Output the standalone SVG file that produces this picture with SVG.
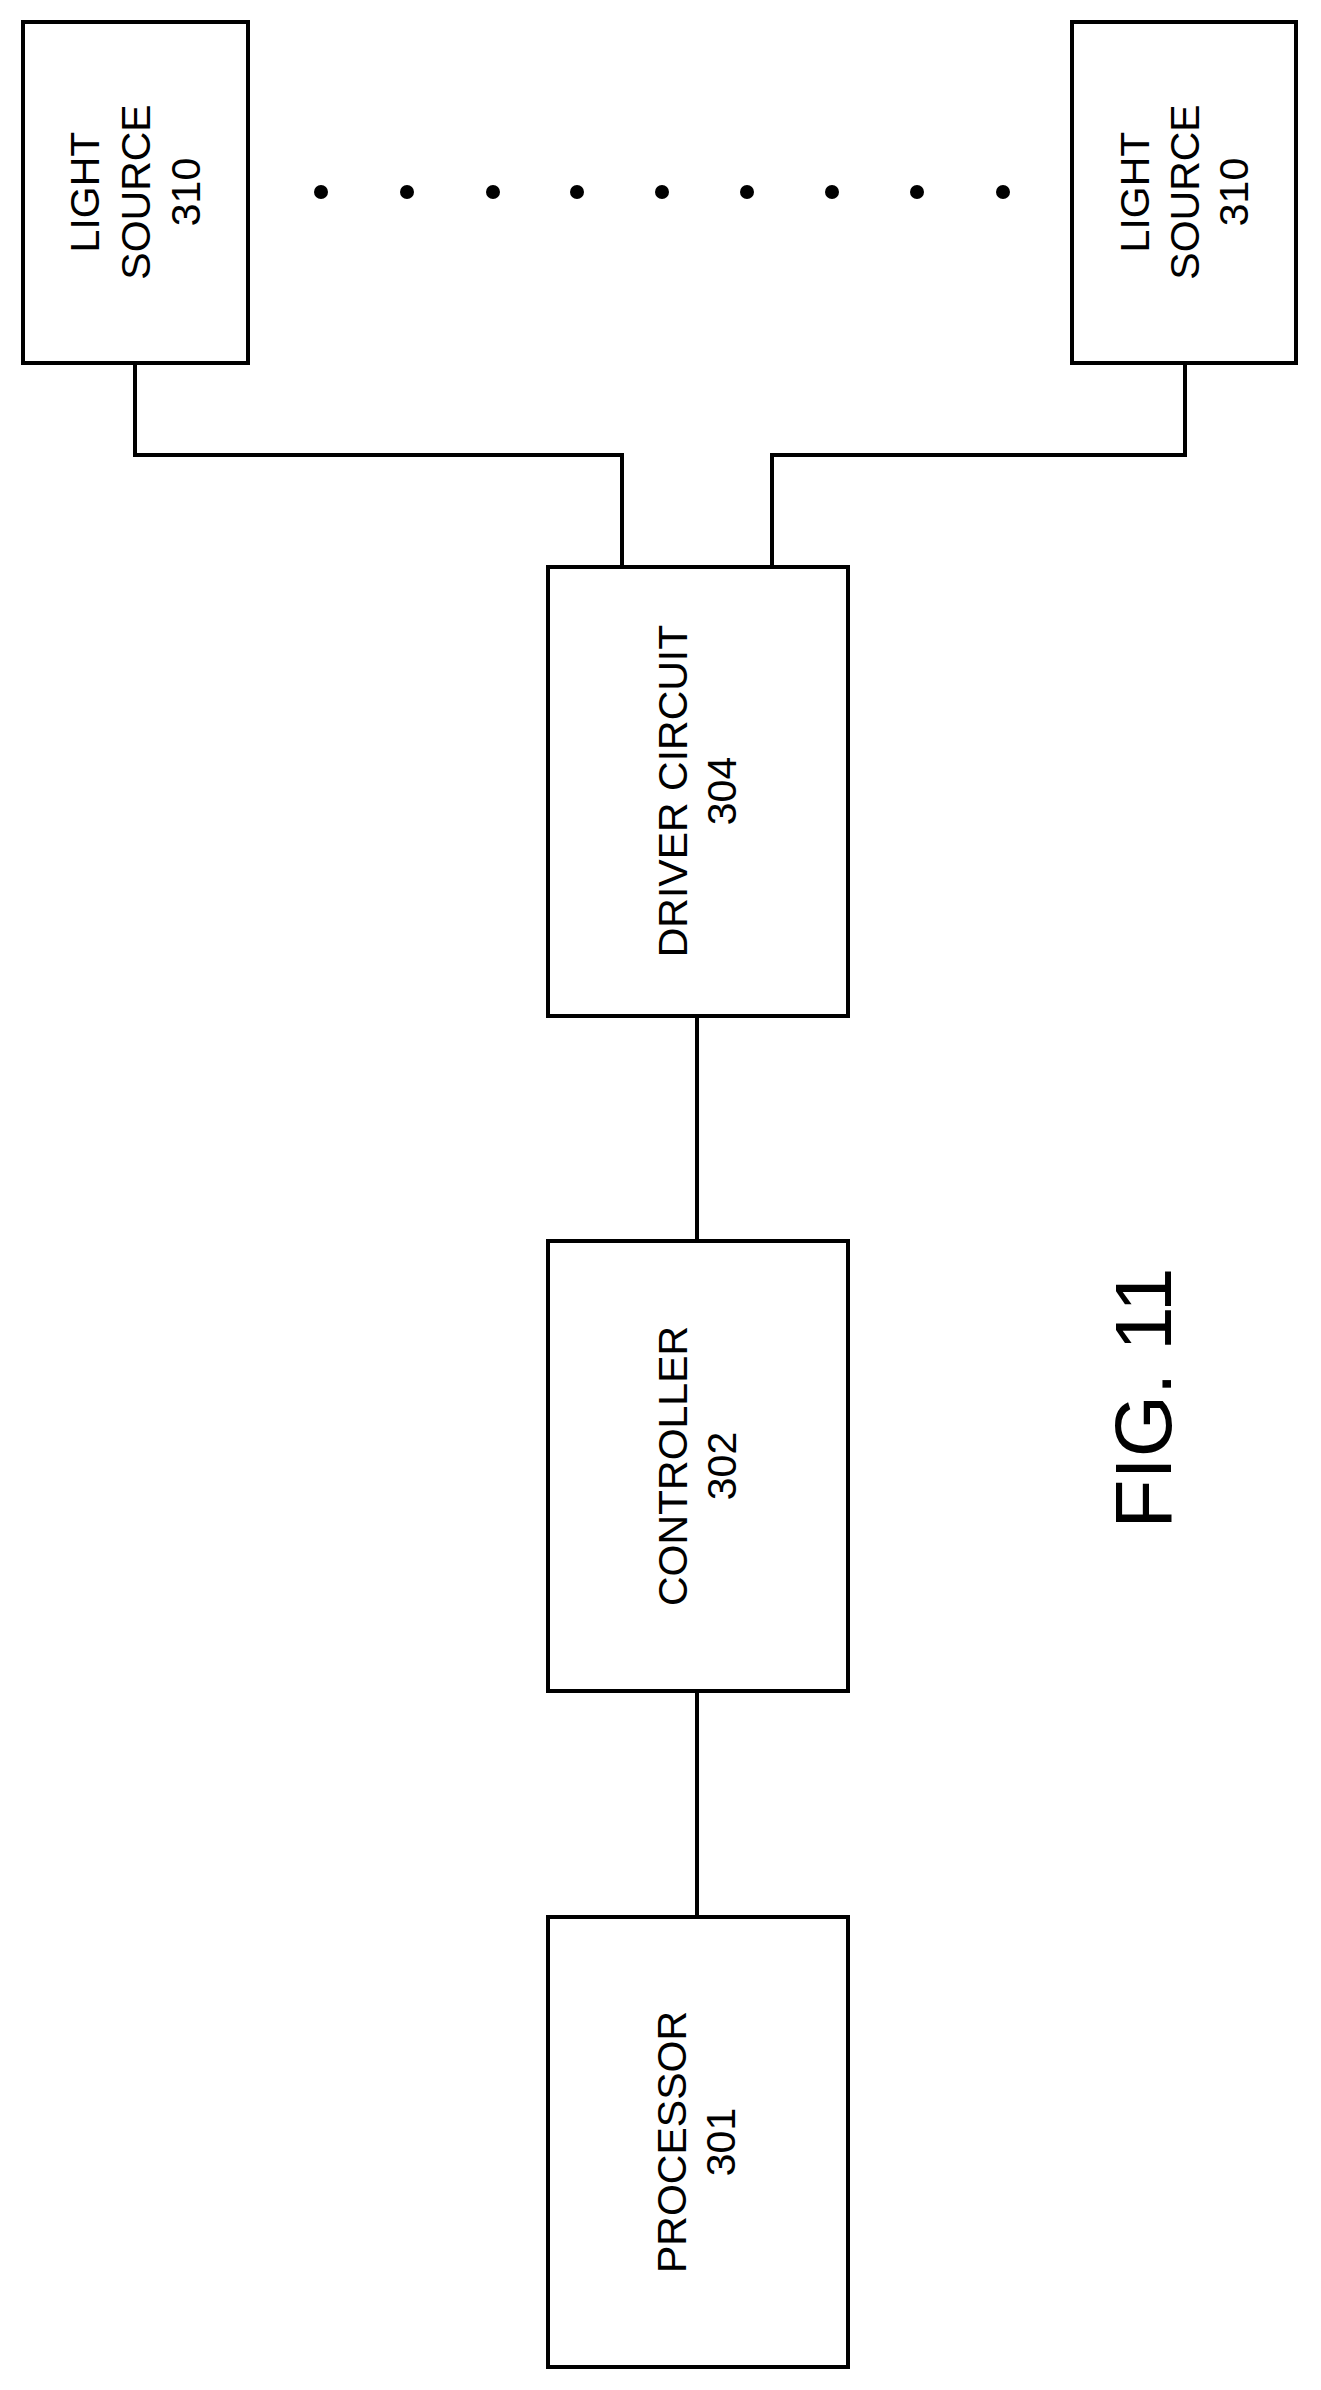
<svg xmlns="http://www.w3.org/2000/svg" width="1321" height="2390" viewBox="0 0 1321 2390">
<style>
.b{fill:#fff;stroke:#000;stroke-width:4}
.c{fill:none;stroke:#000;stroke-width:4}
text{font-family:"Liberation Sans",Arial,sans-serif;font-size:41px;fill:#000;text-anchor:middle}
</style>
<rect width="1321" height="2390" fill="#fff"/>
<g id="connectors">
<path class="c" d="M135 363V455H622V567"/>
<path class="c" d="M1185 363V455H772V567"/>
<path class="c" d="M697 1016V1241"/>
<path class="c" d="M697 1691V1917"/>
</g>
<g id="ls1"><rect class="b" x="23" y="22" width="225" height="341"/>
<text transform="translate(99 192) rotate(-90)">LIGHT</text>
<text transform="translate(150 192) rotate(-90)">SOURCE</text>
<text transform="translate(200 192) rotate(-90)">310</text></g>
<g id="ls2"><rect class="b" x="1072" y="22" width="224" height="341"/>
<text transform="translate(1149 192) rotate(-90)">LIGHT</text>
<text transform="translate(1199 192) rotate(-90)">SOURCE</text>
<text transform="translate(1248 192) rotate(-90)">310</text></g>
<g id="dots" fill="#000">
<circle cx="321" cy="192" r="7"/><circle cx="407" cy="192" r="7"/><circle cx="493" cy="192" r="7"/><circle cx="577" cy="192" r="7"/><circle cx="662" cy="192" r="7"/><circle cx="747" cy="192" r="7"/><circle cx="832" cy="192" r="7"/><circle cx="917" cy="192" r="7"/><circle cx="1003" cy="192" r="7"/>
</g>
<g id="driver"><rect class="b" x="548" y="567" width="300" height="449"/>
<text transform="translate(687 791) rotate(-90)">DRIVER CIRCUIT</text>
<text transform="translate(736 791) rotate(-90)">304</text></g>
<g id="controller"><rect class="b" x="548" y="1241" width="300" height="450"/>
<text transform="translate(687 1466) rotate(-90)">CONTROLLER</text>
<text transform="translate(736 1466) rotate(-90)">302</text></g>
<g id="processor"><rect class="b" x="548" y="1917" width="300" height="450"/>
<text transform="translate(686 2142) rotate(-90)">PROCESSOR</text>
<text transform="translate(735 2142) rotate(-90)">301</text></g>
<text transform="translate(1171 1398) rotate(-90)" style="font-size:80px">FIG. 11</text>
</svg>
